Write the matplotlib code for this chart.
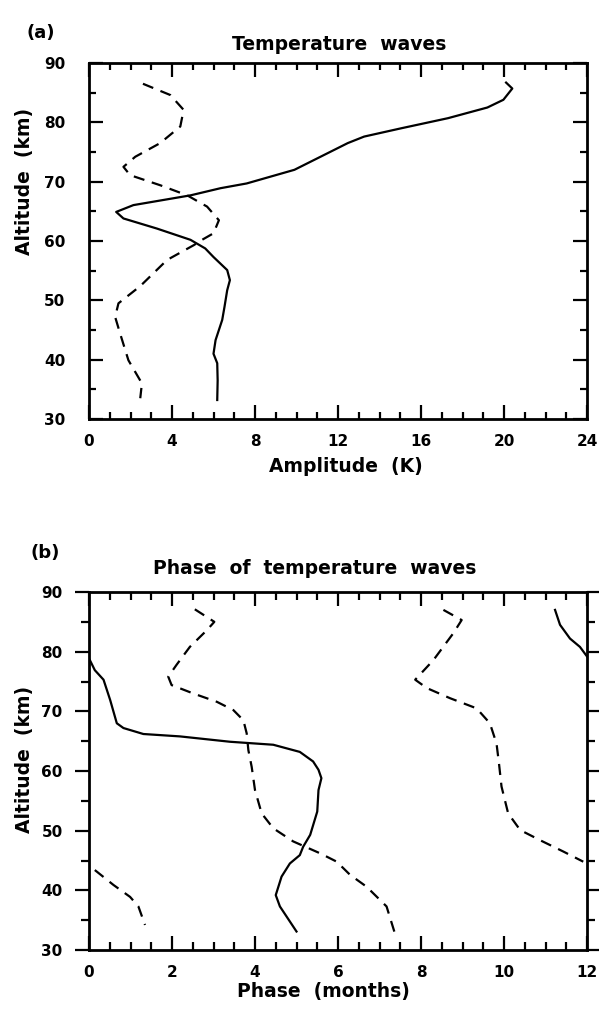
import matplotlib
matplotlib.use("Agg")
import matplotlib.pyplot as plt
from matplotlib.ticker import MultipleLocator

plt.rcParams['font.family'] = ['DejaVu Sans']
plt.rcParams['font.weight'] = 'bold'

# ---- Panel (a): amplitude (K) vs altitude (km)
amp_solid_x = [20.1, 20.4, 19.97, 19.2, 17.3, 15.05, 13.26, 12.47, 11.5, 9.9, 7.6, 6.34, 4.9, 2.14, 1.31,
               1.66, 3.27, 4.89, 5.6, 6.0, 6.66, 6.79, 6.66, 6.53, 6.42, 6.1, 6.0, 6.18, 6.2, 6.18]
amp_solid_y = [86.7, 85.7, 83.8, 82.5, 80.7, 79.0, 77.6, 76.5, 74.8, 72.0, 69.7, 68.9, 67.7, 66.05, 64.9,
               63.8, 62.1, 60.2, 58.75, 57.3, 55.1, 53.4, 51.7, 48.9, 46.7, 43.3, 41.0, 39.4, 36.5, 33.2]
amp_dash_x = [2.6, 3.92, 4.56, 4.4, 3.43, 2.23, 1.66, 1.98, 3.43, 4.73, 5.69, 6.26, 6.0, 5.45,
              5.05, 3.76, 2.47, 1.42, 1.26, 1.5, 1.9, 2.55, 2.47]
amp_dash_y = [86.5, 84.6, 82.1, 79.3, 76.5, 74.2, 72.5, 71.1, 69.4, 67.7, 65.8, 63.5, 61.3, 60.2,
              59.3, 56.8, 52.4, 49.5, 47.2, 44.4, 39.9, 36.0, 33.5]

# ---- Panel (b): phase (months) vs altitude (km)
ph_solid1_x = [0.02, 0.14, 0.35, 0.51, 0.67, 0.83, 1.31, 2.19, 3.4, 4.44, 5.08, 5.4, 5.53, 5.6, 5.53,
               5.5, 5.33, 5.16, 5.08, 4.84, 4.64, 4.5, 4.6, 5.0]
ph_solid1_y = [78.6, 76.9, 75.3, 71.9, 68.0, 67.2, 66.2, 65.8, 64.9, 64.4, 63.2, 61.6, 60.2, 58.8, 56.8,
               53.2, 49.3, 47.3, 45.9, 44.5, 42.3, 39.2, 37.3, 33.1]
ph_solid2_x = [11.23, 11.35, 11.59, 11.83, 12.0]
ph_solid2_y = [87.0, 84.5, 82.2, 80.8, 79.2]
ph_dash1_x = [2.55, 3.02, 2.84, 2.43, 2.11, 1.91, 1.99, 2.51, 3.08, 3.48, 3.72, 3.8, 3.84, 3.92,
              4.0, 4.16, 4.44, 4.92, 5.57, 5.97, 6.29, 6.69, 7.17, 7.37]
ph_dash1_y = [87.1, 85.0, 83.6, 80.8, 77.8, 75.8, 74.4, 73.0, 71.6, 70.2, 68.5, 66.3, 63.5, 60.7,
              56.8, 52.9, 50.4, 48.2, 46.2, 44.8, 42.6, 40.6, 37.3, 32.8]
ph_dash2_x = [8.54, 8.98, 8.78, 8.3, 7.86, 8.14, 8.7, 9.34, 9.66, 9.82, 9.88, 9.94, 10.1, 10.39,
              10.87, 11.43, 11.91]
ph_dash2_y = [87.0, 85.3, 83.1, 78.6, 75.3, 73.9, 72.2, 70.5, 68.0, 64.6, 61.2, 57.4, 52.9, 50.1,
              48.4, 46.5, 44.8]
ph_dash3_x = [0.14, 0.59, 0.99, 1.19, 1.35]
ph_dash3_y = [43.4, 40.9, 38.9, 37.3, 34.2]

amp_ticks = [0, 4, 8, 12, 16, 20, 24]
phase_ticks = [0, 2, 4, 6, 8, 10, 12]
alt_ticks = [30, 40, 50, 60, 70, 80, 90]

W, H = 599, 1010
fig = plt.figure(figsize=(W / 100, H / 100), dpi=100)

def px_axes(l, t, r, b):
    return fig.add_axes([l / W, 1 - b / H, (r - l) / W, (b - t) / H])

axA = px_axes(89, 63, 587, 419)
axB = px_axes(89, 592, 587, 950)

LW = 1.6
DASH = (0, (5, 3.5))

axA.plot(amp_solid_x, amp_solid_y, color='black', lw=LW)
axA.plot(amp_dash_x, amp_dash_y, color='black', lw=LW, linestyle=DASH)

axB.plot(ph_solid1_x, ph_solid1_y, color='black', lw=LW)
axB.plot(ph_solid2_x, ph_solid2_y, color='black', lw=LW)
axB.plot(ph_dash1_x, ph_dash1_y, color='black', lw=LW, linestyle=DASH)
axB.plot(ph_dash2_x, ph_dash2_y, color='black', lw=LW, linestyle=DASH)
axB.plot(ph_dash3_x, ph_dash3_y, color='black', lw=LW, linestyle=DASH)

for ax in (axA, axB):
    for s in ax.spines.values():
        s.set_linewidth(2.0)
    ax.set_ylim(30, 90)
    ax.set_yticks(alt_ticks)
    ax.yaxis.set_minor_locator(MultipleLocator(5))

axA.set_xlim(0, 24)
axA.set_xticks(amp_ticks)
axA.xaxis.set_minor_locator(MultipleLocator(1))
axB.set_xlim(0, 12)
axB.set_xticks(phase_ticks)
axB.xaxis.set_minor_locator(MultipleLocator(0.5))

# Panel (a): all ticks inward
axA.tick_params(which='both', direction='in', top=True, right=True, width=1.6)
axA.tick_params(which='major', length=10)
axA.tick_params(which='minor', length=5)
axA.tick_params(axis='x', which='major', pad=11, labelsize=11)
axA.tick_params(axis='y', which='major', pad=17, labelsize=11)

# Panel (b): x ticks inward, y ticks outward
axB.tick_params(axis='x', which='both', direction='in', top=True, width=1.6)
axB.tick_params(axis='y', which='both', direction='out', right=True, width=1.6)
axB.tick_params(which='major', length=10)
axB.tick_params(which='minor', length=6)
axB.tick_params(axis='x', which='major', pad=11, labelsize=11)
axB.tick_params(axis='y', which='major', pad=9, labelsize=11)

for ax in (axA, axB):
    for lab in ax.get_xticklabels() + ax.get_yticklabels():
        lab.set_fontweight('bold')

def ftext(x, y, s, size, rot=0, ha='center'):
    fig.text(x / W, 1 - y / H, s, fontsize=size, fontweight='bold', ha=ha, va='center', rotation=rot)

ftext(41, 33, '(a)', 13)
ftext(339, 45, 'Temperature  waves', 13.5)
ftext(346, 467, 'Amplitude  (K)', 13.5)
ftext(25, 181, 'Altitude  (km)', 13.5, rot=90)

ftext(45, 553, '(b)', 13)
ftext(315, 568, 'Phase  of  temperature  waves', 13.5)
ftext(323, 992, 'Phase  (months)', 13.5)
ftext(25, 759, 'Altitude  (km)', 13.5, rot=90)

fig.savefig('out.png', dpi=100)
